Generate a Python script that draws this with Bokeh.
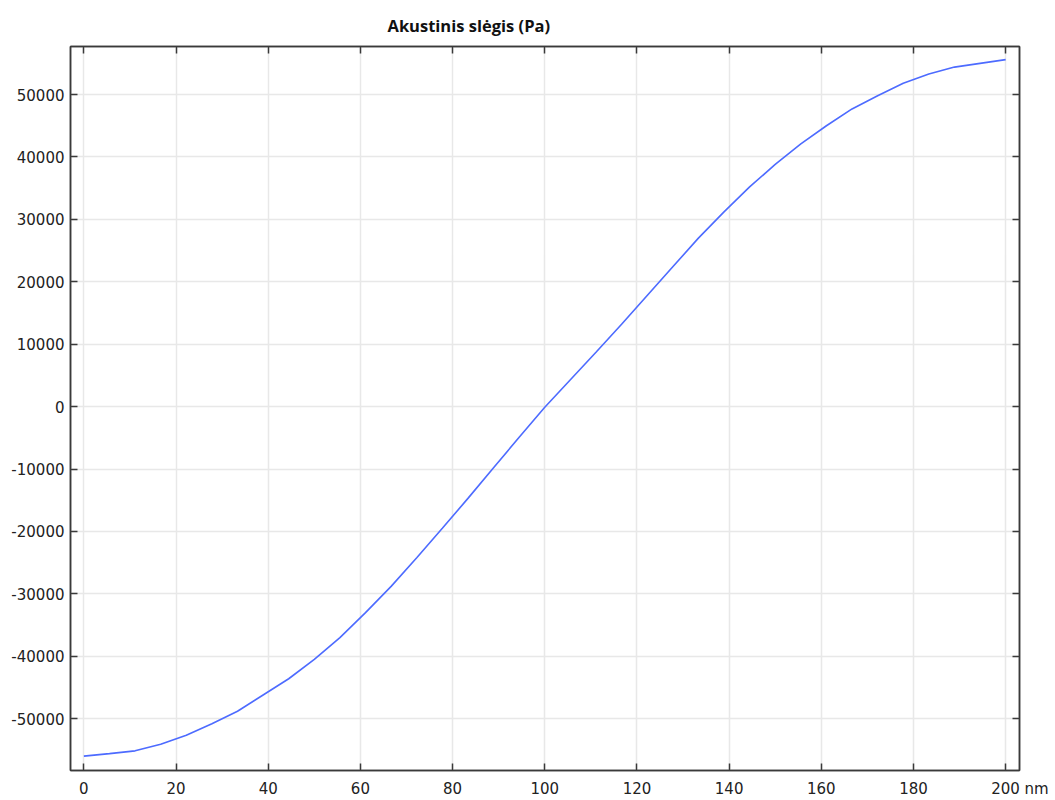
from bokeh.plotting import figure
from bokeh.models import (FixedTicker, CustomJSTickFormatter, LinearAxis, Range1d, Title)
from bokeh.embed import file_html
from bokeh.resources import INLINE

# data
x_nm = [i * 200 / 36 for i in range(37)]
pressure_pa = [-56000, -55600, -55150, -54100, -52650, -50800, -48800, -46200, -43600,
               -40500, -37000, -33000, -28800, -24200, -19500, -14700, -9800, -4900,
               -100, 4300, 8700, 13200, 17800, 22400, 27000, 31200, 35200, 38800,
               42100, 45000, 47700, 49800, 51800, 53300, 54400, 55000, 55600]
x_ticks = [0, 20, 40, 60, 80, 100, 120, 140, 160, 180, 200]
y_ticks = [-50000, -40000, -30000, -20000, -10000, 0, 10000, 20000, 30000, 40000, 50000]
title_text = "Akustinis slėgis (Pa)"
unit_text = "nm"

p = figure(width=1055, height=800, output_backend="svg", toolbar_location=None,
           x_range=Range1d(-2.9, 203.0), y_range=Range1d(-58300, 57700),
           min_border_left=70, min_border_right=36, min_border_top=46, min_border_bottom=28,
           x_axis_location=None, y_axis_location=None)

p.title = Title(text=title_text, text_font="Open Sans", text_font_style="bold",
                text_font_size="16.5px", text_color="#111111", align="left",
                offset=317, standoff=20, vertical_align="bottom", text_line_height=1.0)

p.line(x_nm, pressure_pa, line_color="#4d6bff", line_width=1.6)

plain_fmt = CustomJSTickFormatter(code="return tick.toFixed(0);")
x_fmt = CustomJSTickFormatter(args=dict(last=x_ticks[-1], unit=unit_text), code="""
    if (Math.abs(tick - last) < 1e-9) {
        return "\\u00a0\\u00a0\\u00a0\\u00a0\\u00a0\\u00a0" + tick.toFixed(0) + " " + unit;
    }
    return tick.toFixed(0);
""")

def mk_axis(ticks, fmt, labels=True):
    ax = LinearAxis(ticker=FixedTicker(ticks=ticks), formatter=fmt)
    ax.major_tick_in = 7
    ax.major_tick_out = 0
    ax.minor_tick_in = 0
    ax.minor_tick_out = 0
    ax.axis_line_color = "#3a3a3a"
    ax.axis_line_width = 1.5
    ax.major_tick_line_color = "#3a3a3a"
    ax.major_tick_line_width = 1.5
    ax.major_label_text_font = "DejaVu Sans"
    ax.major_label_text_font_size = "15px"
    ax.major_label_text_color = "#222222"
    if not labels:
        ax.major_label_text_font_size = "0px"
        ax.major_label_text_color = None
    return ax

bx = mk_axis(x_ticks, x_fmt)
bx.major_label_standoff = 9
ly = mk_axis(y_ticks, plain_fmt)
ly.major_label_standoff = 6
tx = mk_axis(x_ticks, plain_fmt, labels=False)
ry = mk_axis(y_ticks, plain_fmt, labels=False)
p.add_layout(bx, "below")
p.add_layout(ly, "left")
p.add_layout(tx, "above")
p.add_layout(ry, "right")

p.xgrid.ticker = FixedTicker(ticks=x_ticks)
p.ygrid.ticker = FixedTicker(ticks=y_ticks)
p.grid.grid_line_color = "#e8e8e8"
p.grid.grid_line_width = 1.5

p.outline_line_color = "#3a3a3a"
p.outline_line_width = 1.5

open("out.html", "w").write(file_html(p, INLINE))
